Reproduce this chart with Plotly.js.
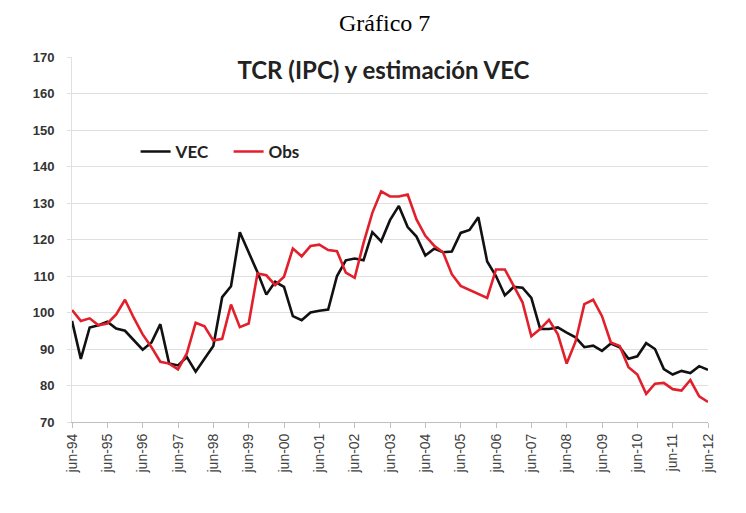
<!DOCTYPE html>
<html>
<head>
<meta charset="utf-8">
<script src="https://cdn.plot.ly/plotly-3.0.1.min.js"></script>
<style>html,body{margin:0;padding:0;background:#fff;}#chart{width:746px;height:513px;}</style>
</head>
<body>
<div id="chart"></div>
<script>
var categories = [
 "jun-94","sep-94","dic-94","mar-95","jun-95","sep-95","dic-95","mar-96",
 "jun-96","sep-96","dic-96","mar-97","jun-97","sep-97","dic-97","mar-98",
 "jun-98","sep-98","dic-98","mar-99","jun-99","sep-99","dic-99","mar-00",
 "jun-00","sep-00","dic-00","mar-01","jun-01","sep-01","dic-01","mar-02",
 "jun-02","sep-02","dic-02","mar-03","jun-03","sep-03","dic-03","mar-04",
 "jun-04","sep-04","dic-04","mar-05","jun-05","sep-05","dic-05","mar-06",
 "jun-06","sep-06","dic-06","mar-07","jun-07","sep-07","dic-07","mar-08",
 "jun-08","sep-08","dic-08","mar-09","jun-09","sep-09","dic-09","mar-10",
 "jun-10","sep-10","dic-10","mar-11","jun-11","sep-11","dic-11","mar-12",
 "jun-12"
];
var tickLabels = ["jun-94","jun-95","jun-96","jun-97","jun-98","jun-99","jun-00",
 "jun-01","jun-02","jun-03","jun-04","jun-05","jun-06","jun-07","jun-08",
 "jun-09","jun-10","jun-11","jun-12"];
var vec = [
 97.7, 87.3, 95.9, 96.5, 97.5, 95.6, 95.0, 92.5,
 89.8, 91.8, 96.8, 86.0, 85.5, 87.8, 83.8, 87.3,
 90.8, 104.2, 107.2, 122.0, 116.5, 111.0, 104.9, 108.4,
 107.0, 99.0, 97.9, 100.0, 100.5, 100.8, 110.0, 114.3,
 114.8, 114.3, 122.0, 119.5, 125.3, 129.2, 123.4, 120.8,
 115.6, 117.5, 116.5, 116.7, 121.8, 122.6, 126.1, 114.0,
 110.0, 104.7, 107.0, 106.8, 104.0, 95.5, 95.5, 95.9,
 94.5, 93.2, 90.5, 90.9, 89.5, 91.5, 90.5, 87.3,
 88.0, 91.6, 90.0, 84.5, 83.0, 84.0, 83.4, 85.3,
 84.3
];
var obs = [
 100.7, 97.7, 98.4, 96.5, 97.0, 99.5, 103.5, 98.5,
 94.0, 90.5, 86.5, 86.0, 84.4, 88.8, 97.2, 96.2,
 92.3, 92.8, 102.2, 96.0, 97.0, 110.7, 110.2, 107.5,
 109.8, 117.5, 115.4, 118.2, 118.6, 117.1, 116.8, 110.9,
 109.5, 119.0, 127.3, 133.2, 131.8, 131.8, 132.3, 125.5,
 121.0, 118.3, 116.5, 110.5, 107.3, 106.2, 105.0, 104.0,
 111.8, 111.8, 107.3, 102.8, 93.5, 95.5, 98.0, 94.0,
 86.0, 92.0, 102.3, 103.5, 99.0, 91.8, 90.8, 85.0,
 83.0, 77.7, 80.5, 80.7, 79.0, 78.6, 81.5, 77.0,
 75.5
];

var traces = [
 {x: categories, y: vec, type: 'scatter', mode: 'lines', name: 'VEC',
  line: {color: '#111111', width: 2.6}},
 {x: categories, y: obs, type: 'scatter', mode: 'lines', name: 'Obs',
  line: {color: '#e2202c', width: 2.6}}
];

var layout = {
 width: 746, height: 513,
 margin: {l: 72, r: 38, t: 57, b: 91},
 paper_bgcolor: '#ffffff', plot_bgcolor: '#ffffff',
 showlegend: true,
 title: {text: 'TCR (IPC) y estimación VEC', xref: 'container', x: 0.514,
   y: 0.862, yref: 'container', yanchor: 'middle', xanchor: 'center',
   font: {family: 'Lato, "Open Sans", sans-serif', size: 24, color: '#222222', weight: 'bold'}},
 legend: {orientation: 'h', x: 0.1, y: 0.74, xanchor: 'left', yanchor: 'middle',
   bgcolor: 'rgba(0,0,0,0)', font: {family: 'Lato, sans-serif', size: 17, color: '#222222', weight: 'bold'},
   itemwidth: 30, traceorder: 'normal', entrywidth: 48, entrywidthmode: 'pixels'},
 xaxis: {type: 'category', range: [0, categories.length - 1],
   tickmode: 'array', tickvals: tickLabels, ticktext: tickLabels,
   tickangle: -90, showgrid: false, zeroline: false,
   showline: true, linecolor: '#bfbfbf', linewidth: 1,
   ticks: 'outside', ticklen: 5, tickcolor: '#bfbfbf',
   tickfont: {family: '"Liberation Sans", Arial, sans-serif', size: 14, color: '#404040'}},
 yaxis: {range: [70, 170], tickmode: 'linear', tick0: 70, dtick: 10,
   showgrid: true, gridcolor: '#e0e0e0', gridwidth: 1, zeroline: false,
   showline: true, linecolor: '#e0e0e0', linewidth: 1,
   ticks: 'outside', ticklen: 4, tickcolor: '#e0e0e0', ticklabelstandoff: 10,
   tickfont: {family: '"Liberation Sans", Arial, sans-serif', size: 13, color: '#333333', weight: 'bold'}},
 annotations: [
  {text: 'Gráfico 7', xref: 'paper', yref: 'paper', x: 0.4906, y: 1.093,
   xanchor: 'center', yanchor: 'middle', showarrow: false,
   font: {family: '"Liberation Serif", "Times New Roman", serif', size: 24, color: '#000000'}}
 ]
};

Plotly.newPlot('chart', traces, layout, {displayModeBar: false, staticPlot: true});
</script>
</body>
</html>
